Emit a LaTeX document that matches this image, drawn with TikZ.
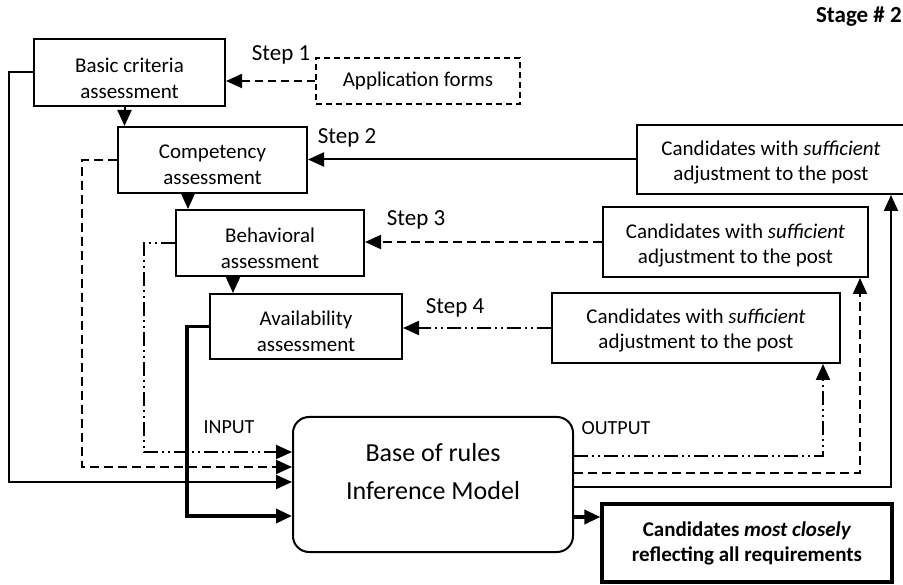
\documentclass[tikz,border=0pt]{standalone}
\usepackage{fontspec}
\setmainfont{Carlito}
\usepackage{tikz}
\usetikzlibrary{arrows.meta,positioning,calc}

\newcommand{\padtop}[1]{\rule{0pt}{#1}}
\newcommand{\padbot}[1]{\rule[-#1]{0pt}{1pt}}

\tikzset{
  stagebox/.style={draw,line width=2pt,align=center,inner sep=0pt,
    font=\fontsize{21}{26}\selectfont},
  candbox/.style={stagebox,minimum height=69pt,font=\fontsize{21}{25}\selectfont},
  formbox/.style={stagebox,dash pattern=on 6pt off 4pt},
  rulebox/.style={draw,line width=2pt,rounded corners=16pt,align=center,
    minimum width=280pt,minimum height=135pt,font=\fontsize{26}{38}\selectfont},
  bestbox/.style={stagebox,line width=3.2pt,font=\fontsize{21}{25}\selectfont\bfseries},
  steplab/.style={font=\fontsize{23}{27}\selectfont,inner sep=0pt},
  iolab/.style={font=\fontsize{20}{24}\selectfont,inner sep=0pt},
  conn/.style={line width=2pt,-{Triangle[length=16pt,width=14pt]}},
  thickconn/.style={conn,line width=3.5pt},
  dashline/.style={conn,dash pattern=on 9pt off 5pt},
  dotdash/.style={conn,dash pattern=on 14pt off 4pt on 2pt off 4pt on 2pt off 4pt}
}

\begin{document}
\begin{tikzpicture}[x=1pt,y=-1pt]
  \useasboundingbox (0,0) rectangle (903,585);

  % assessment steps
  \node[stagebox,minimum width=191pt,minimum height=67pt] (basic) at (129.5,72.5) {\padtop{26pt}Basic criteria\\assessment};
  \node[stagebox,minimum width=189pt,minimum height=66pt] (compet) at (212.5,160) {\padtop{24pt}Competency\\assessment};
  \node[stagebox,minimum width=188pt,minimum height=66pt] (behav) at (270,243) {\padtop{25pt}Behavioral\\assessment};
  \node[stagebox,minimum width=192pt,minimum height=65pt] (avail) at (306,326.5) {\padtop{25pt}Availability\\assessment};
  \node[formbox,minimum width=204pt,minimum height=46pt] (forms) at (418,81) {Application forms};

  % candidate pools
  \node[candbox,minimum width=268pt] (cand1) at (771,159.5) {\padtop{21pt}Candidates with \emph{sufficient}\\adjustment to the post};
  \node[candbox,minimum width=265pt,minimum height=70pt] (cand2) at (735.5,242) {\padtop{21pt}Candidates with \emph{sufficient}\\adjustment to the post};
  \node[candbox,minimum width=288pt,minimum height=70pt] (cand3) at (696,328) {\padtop{20pt}Candidates with \emph{sufficient}\\adjustment to the post};

  % inference model and result
  \node[rulebox] (rules) at (433,484.5) {Base of rules\\Inference Model\padbot{27pt}};
  \node[bestbox,minimum width=290pt,minimum height=78pt] (best) at (747,543) {Candidates \emph{most closely}\\reflecting all requirements};

  % labels
  \node[font=\fontsize{23}{27}\selectfont\bfseries,anchor=east,inner sep=0pt] (stage) at (902,17) {Stage \# 2};
  \node[steplab] (s1) at (281,55) {Step 1};
  \node[steplab] (s2) at (347,138) {Step 2};
  \node[steplab] (s3) at (416,220) {Step 3};
  \node[steplab] (s4) at (455,308) {Step 4};
  \node[iolab] (inlab) at (229,427) {INPUT};
  \node[iolab] (outlab) at (616,428) {OUTPUT};

  % step arrows
  \draw[dashline,dash pattern=on 8pt off 5pt] (forms.west) -- (forms.west -| basic.east);
  \draw[conn] (cand1.west) -- (cand1.west -| compet.east);
  \draw[dashline] (cand2.west) -- (cand2.west -| behav.east);
  \draw[dotdash] (cand3.west) -- (cand3.west -| avail.east);

  % sequence
  \draw[conn] ([xshift=-5pt]basic.south) -- ([xshift=-5pt]basic.south |- compet.north);
  \draw[conn] ([xshift=-24.5pt]compet.south) -- ([xshift=-24.5pt]compet.south |- behav.north);
  \draw[conn] ([xshift=-37pt]behav.south) -- ([xshift=-37pt]behav.south |- avail.north);

  % inputs
  \draw[conn] (basic.west) -- ++(-24,0) |- ([yshift=2.5pt]rules.west);
  \draw[dashline] (compet.west) -- ++(-35,0) |- ([yshift=17.5pt]rules.west);
  \draw[dotdash] (behav.west) -- ++(-31,0) |- ([yshift=32.5pt]rules.west);
  \draw[thickconn] (avail.west) -- ++(-22,0) |- ([yshift=-31.5pt]rules.west);

  % outputs
  \draw[dotdash] ([yshift=28.5pt]rules.east) -| ([xshift=127pt]cand3.south);
  \draw[dashline] ([yshift=11.5pt]rules.east) -| ([xshift=124.5pt]cand2.south);
  \draw[conn] ([yshift=-2.5pt]rules.east) -| ([xshift=120pt]cand1.south);
  \coordinate (toBest) at ([yshift=-32.5pt]rules.east);
  \draw[thickconn] (toBest) -- (toBest -| best.west);
\end{tikzpicture}
\end{document}
